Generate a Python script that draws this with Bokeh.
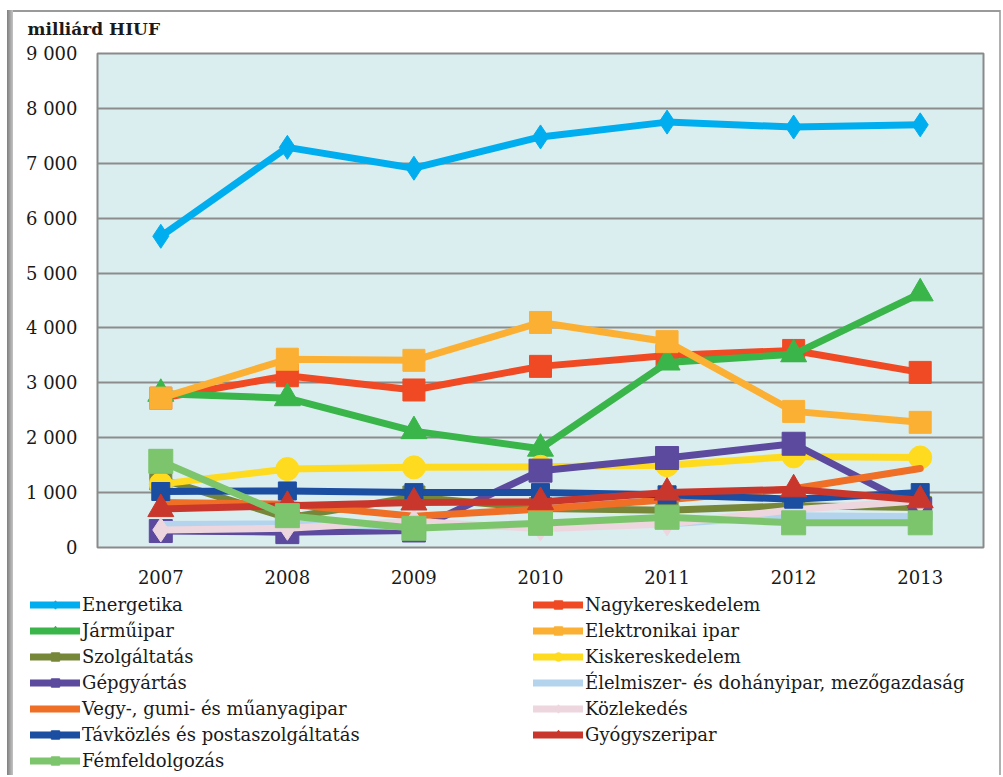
from bokeh.plotting import figure
from bokeh.models import FactorRange, Range1d, FixedTicker, Legend, LegendItem
from bokeh.embed import file_html
from bokeh.resources import INLINE

years = ["2007", "2008", "2009", "2010", "2011", "2012", "2013"]
y_ticks = [0, 1000, 2000, 3000, 4000, 5000, 6000, 7000, 8000, 9000]
y_tick_labels = ["0", "1 000", "2 000", "3 000", "4 000", "5 000",
                 "6 000", "7 000", "8 000", "9 000"]
unit_label = "milliárd  HIUF"

energetika = [5670, 7290, 6910, 7480, 7750, 7660, 7700]
nagykereskedelem = [2720, 3130, 2870, 3300, 3500, 3590, 3190]
jarmuipar = [2800, 2720, 2120, 1800, 3370, 3520, 4630]
elektronikai = [2720, 3430, 3410, 4100, 3750, 2480, 2280]
szolgaltatas = [1250, 540, 920, 710, 680, 760, 730]
kiskereskedelem = [1155, 1430, 1460, 1470, 1500, 1660, 1640]
gepgyartas = [300, 280, 310, 1400, 1630, 1890, 700]
elelmiszer = [420, 430, 380, 400, 430, 580, 560]
vegy = [820, 790, 570, 700, 870, 1070, 1440]
kozlekedes = [320, 350, 480, 340, 430, 690, 850]
tavkozles = [1020, 1030, 1000, 1000, 960, 880, 1000]
gyogyszeripar = [700, 760, 820, 830, 1000, 1060, 860]
femfeldolgozas = [1570, 580, 350, 440, 550, 450, 450]

series = [
    ("Energetika", energetika, "#00AEEF", "diamond", 24),
    ("Nagykereskedelem", nagykereskedelem, "#EF4A23", "square", 22),
    ("Járműipar", jarmuipar, "#3AB54A", "triangle", 26),
    ("Elektronikai ipar", elektronikai, "#FBB034", "square", 22),
    ("Szolgáltatás", szolgaltatas, "#77873A", "square", 22),
    ("Kiskereskedelem", kiskereskedelem, "#FFDB1F", "circle", 23),
    ("Gépgyártás", gepgyartas, "#5B4A9E", "square", 23),
    ("Élelmiszer- és dohányipar, mezőgazdaság", elelmiszer, "#B4D4EE", None, 0),
    ("Vegy-, gumi- és műanyagipar", vegy, "#EE6F25", None, 0),
    ("Közlekedés", kozlekedes, "#EDD6DE", "diamond", 24),
    ("Távközlés és postaszolgáltatás", tavkozles, "#1B4DA0", "square", 18),
    ("Gyógyszeripar", gyogyszeripar, "#C9372C", "triangle", 26),
    ("Fémfeldolgozás", femfeldolgozas, "#7CC56D", "square", 24),
]

FONT = "DejaVu Serif"
TXT = "#1a1a1a"
W = 1003

# chart border (page decoration) drawn as CSS backgrounds behind transparent canvases
top_styles = {
    "background-color": "white",
    "background-image": ("linear-gradient(to right, #7f7f7f, #c4c4c4), "
                         "linear-gradient(#9a9a9a, #9a9a9a), "
                         "linear-gradient(#b0b0b0, #b0b0b0)"),
    "background-size": "6px 100%, 992px 2px, 2px 100%",
    "background-position": "7px 10px, 8px 10px, 999px 10px",
    "background-repeat": "no-repeat",
}
bottom_styles = {
    "background-color": "white",
    "background-image": ("linear-gradient(to right, #7f7f7f, #c4c4c4), "
                         "linear-gradient(#b0b0b0, #b0b0b0)"),
    "background-size": "6px 100%, 2px 100%",
    "background-position": "7px 0px, 999px 0px",
    "background-repeat": "no-repeat",
}

p = figure(width=W, height=590, x_range=FactorRange(*years),
           y_range=Range1d(0, 9000), output_backend="svg",
           toolbar_location=None, min_border_left=97, min_border_right=20,
           min_border_top=53, min_border_bottom=43, styles=top_styles)
p.background_fill_color = "#DAEEF0"
p.border_fill_alpha = 0
p.outline_line_color = "#8a8a8a"
p.outline_line_width = 2

p.title.text = unit_label
p.title.text_font = FONT
p.title.text_font_size = "17px"
p.title.text_font_style = "bold"
p.title.text_color = TXT
p.title.align = "left"
p.title.offset = -70
p.title.standoff = 30

p.xgrid.grid_line_color = None
p.ygrid.grid_line_color = "#8c8c8c"
p.ygrid.grid_line_width = 2
p.yaxis.ticker = FixedTicker(ticks=y_ticks)
p.yaxis.major_label_overrides = {t: l for t, l in zip(y_ticks, y_tick_labels)}
for ax in (p.xaxis[0], p.yaxis[0]):
    ax.axis_line_color = None
    ax.major_tick_line_color = None
    ax.minor_tick_line_color = None
    ax.major_tick_in = 0
    ax.major_tick_out = 0
    ax.major_label_text_font = FONT
    ax.major_label_text_font_size = "18px"
    ax.major_label_text_color = TXT
p.yaxis.major_label_standoff = 20
p.xaxis.major_label_standoff = 22

# legend figure below the chart (keys drawn from the same series, off-view)
lf = figure(width=W, height=185, x_range=FactorRange(*years),
            y_range=Range1d(-3, -2), output_backend="svg",
            toolbar_location=None, x_axis_location=None, y_axis_location=None,
            min_border=0, styles=bottom_styles)
lf.xgrid.grid_line_color = None
lf.ygrid.grid_line_color = None
lf.outline_line_color = None
lf.background_fill_alpha = 0
lf.border_fill_alpha = 0

items = []
for name, vals, color, marker, size in series:
    p.line(years, vals, line_color=color, line_width=7,
           line_join="round", line_cap="round")
    if marker:
        p.scatter(years, vals, marker=marker, size=size,
                  fill_color=color, line_color=color)
    rs = [lf.line(years, vals, line_color=color, line_width=7,
                  line_join="round", line_cap="round")]
    if marker:
        rs.append(lf.scatter(years, vals, marker=marker, size=size,
                             fill_color=color, line_color=color))
    items.append(LegendItem(label=name, renderers=rs))

def make_legend(its, loc):
    return Legend(items=its, location=loc, orientation="vertical",
                  padding=0, margin=0, spacing=5, glyph_width=50,
                  glyph_height=21, label_height=21, label_standoff=2,
                  label_text_font=FONT, label_text_font_size="18px",
                  label_text_color=TXT, border_line_color=None,
                  background_fill_alpha=0)

lf.add_layout(make_legend(items[0::2], (30, 4)))
lf.add_layout(make_legend(items[1::2], (533, 30)))

open("out.html", "w").write(file_html([p, lf], INLINE))
